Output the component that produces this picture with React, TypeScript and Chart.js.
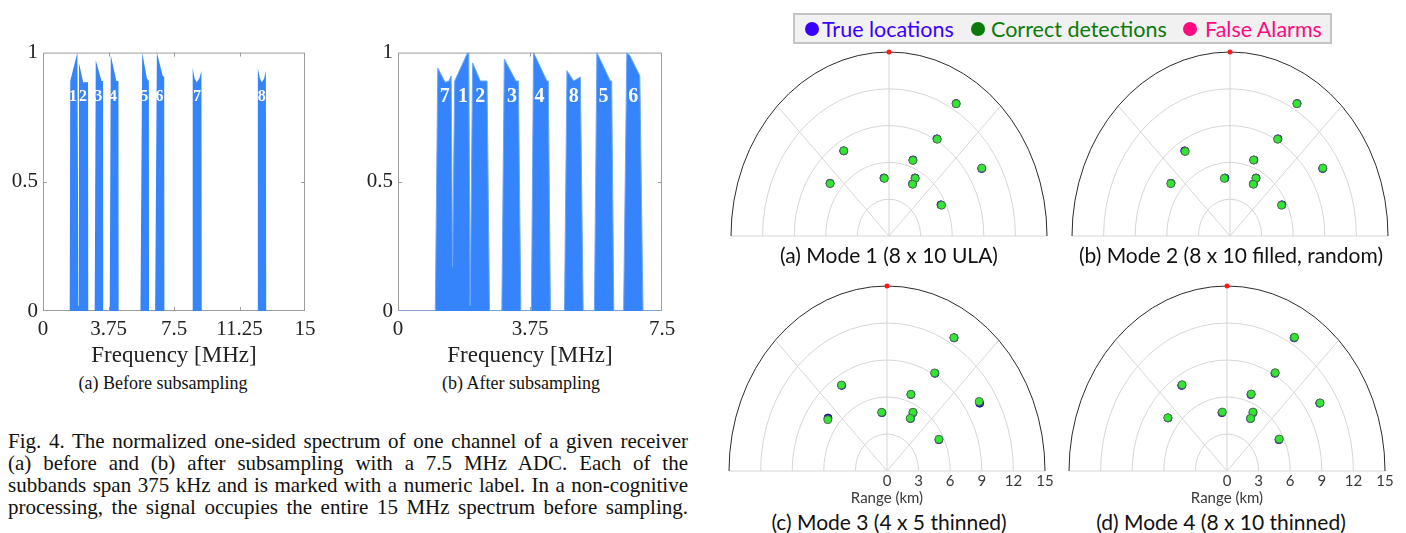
import React, { useEffect, useRef } from 'react';
import { Chart, registerables } from 'chart.js';
Chart.register(...registerables);

const SERIF = "'Liberation Serif', 'Times New Roman', Times, serif";
const SANS = "Lato, 'Open Sans', sans-serif";
const SPEC_BLUE = '#3584fb';

// ---------- Spectrum (a) before subsampling ----------
const freqBefore = [0, 1.53, 1.56, 1.97, 2.0, 2.03, 2.06, 2.3, 2.58, 2.59, 2.96, 3.02, 3.35, 3.44, 3.45, 3.82, 3.88, 4.2, 4.32, 4.33, 5.58, 5.68, 5.95, 6.06, 6.07, 6.42, 6.52, 6.85, 6.94, 6.95, 8.56, 8.57, 8.68, 8.8, 8.95, 9.07, 9.09, 12.29, 12.3, 12.42, 12.53, 12.66, 12.76, 12.78, 15];
const magBefore = [0, 0, 0.89, 1.0, 1.0, 0.02, 0.96, 0.885, 0.885, 0, 0, 0.97, 0.89, 0.89, 0, 0, 0.99, 0.89, 0.89, 0, 0, 1.0, 0.9, 0.89, 0, 0, 1.0, 0.91, 0.906, 0, 0, 0.94, 0.9, 0.885, 0.9, 0.93, 0, 0, 0.94, 0.9, 0.885, 0.9, 0.93, 0, 0];
const bandLabelsBefore = ['1', '2', '3', '4', '5', '6', '7', '8'];
const bandLabelFreqBefore = [1.72, 2.29, 3.17, 4.01, 5.79, 6.67, 8.81, 12.52];
const freqTicksBefore = [0, 3.75, 7.5, 11.25, 15];

// ---------- Spectrum (b) after subsampling ----------
const freqAfter = [0, 1.06, 1.13, 1.34, 1.45, 1.51, 1.55, 1.61, 1.98, 2.01, 2.05, 2.12, 2.34, 2.53, 2.6, 2.95, 3.02, 3.35, 3.42, 3.49, 3.79, 3.85, 4.23, 4.27, 4.33, 4.73, 4.8, 4.99, 5.18, 5.26, 5.58, 5.65, 6.03, 6.07, 6.13, 6.41, 6.5, 6.58, 6.87, 6.96, 7.5];
const magAfter = [0, 0, 0.94, 0.885, 0.89, 0.91, 0.17, 0.89, 1.0, 1.0, 0.02, 0.96, 0.89, 0.89, 0, 0, 0.975, 0.89, 0.89, 0, 0, 1.0, 0.89, 0.89, 0, 0, 0.93, 0.89, 0.905, 0, 0, 1.0, 0.89, 0.89, 0, 0, 1.0, 0.99, 0.91, 0, 0];
const bandLabelsAfter = ['7', '1', '2', '3', '4', '8', '5', '6'];
const bandLabelFreqAfter = [1.33, 1.85, 2.34, 3.24, 4.02, 4.99, 5.84, 6.68];
const freqTicksAfter = [0, 3.75, 7.5];

const magTicks = [0, 0.5, 1];
const bandLabelLevel = 0.83;

// ---------- Polar detection maps ----------
const trueX = [6.37, 4.55, -4.3, 2.27, 8.8, -0.48, 2.47, 2.23, -5.6, 4.93];
const trueY = [10.8, 7.92, 6.94, 6.2, 5.5, 4.73, 4.73, 4.25, 4.3, 2.54];
const mode1X = [6.38, 4.58, -4.29, 2.27, 8.81, -0.44, 2.49, 2.24, -5.59, 4.99];
const mode1Y = [10.78, 7.89, 6.95, 6.16, 5.54, 4.7, 4.7, 4.22, 4.27, 2.51];
const mode2X = [6.35, 4.52, -4.25, 2.24, 8.81, -0.54, 2.46, 2.21, -5.62, 4.89];
const mode2Y = [10.78, 7.89, 6.89, 6.19, 5.54, 4.7, 4.7, 4.22, 4.27, 2.51];
const mode3X = [6.35, 4.52, -4.33, 2.27, 8.75, -0.51, 2.46, 2.21, -5.62, 4.93];
const mode3Y = [10.81, 7.95, 6.97, 6.22, 5.64, 4.76, 4.76, 4.27, 4.16, 2.57];
const mode4X = [6.41, 4.58, -4.26, 2.31, 8.84, -0.44, 2.46, 2.24, -5.62, 4.96];
const mode4Y = [10.84, 7.97, 7.0, 6.24, 5.52, 4.78, 4.78, 4.26, 4.32, 2.59];
const falseAlarmX = [0];
const falseAlarmY = [15];
const rangeRings = [3, 6, 9, 12, 15];
const spokeAngles = [45, 90, 135];
const rangeTicks = [0, 3, 6, 9, 12, 15];
const maxRange = 15;

const captionLines = [
  'Fig. 4. The normalized one-sided spectrum of one channel of a given receiver',
  '(a) before and (b) after subsampling with a 7.5 MHz ADC. Each of the',
  'subbands span 375 kHz and is marked with a numeric label. In a non-cognitive',
  'processing, the signal occupies the entire 15 MHz spectrum before sampling.',
];

function framePlugin() {
  return {
    id: 'frame',
    beforeDatasetsDraw(chart: any) {
      const { ctx, chartArea: a, scales } = chart;
      ctx.save();
      ctx.strokeStyle = '#9d9d9d';
      ctx.lineWidth = 1;
      ctx.strokeRect(a.left + 0.5, a.top + 0.5, a.right - a.left - 1, a.bottom - a.top - 1);
      const L = 4;
      ctx.beginPath();
      scales.x.ticks.forEach((t: any) => {
        if (t.value <= scales.x.min || t.value >= scales.x.max) return;
        const px = Math.round(scales.x.getPixelForValue(t.value)) + 0.5;
        ctx.moveTo(px, a.bottom); ctx.lineTo(px, a.bottom - L);
        ctx.moveTo(px, a.top); ctx.lineTo(px, a.top + L);
      });
      scales.y.ticks.forEach((t: any) => {
        if (t.value <= scales.y.min || t.value >= scales.y.max) return;
        const py = Math.round(scales.y.getPixelForValue(t.value)) + 0.5;
        ctx.moveTo(a.left, py); ctx.lineTo(a.left + L, py);
        ctx.moveTo(a.right, py); ctx.lineTo(a.right - L, py);
      });
      ctx.stroke();
      ctx.restore();
    },
  };
}

function bandLabelPlugin(labels: string[], freqs: number[], size: number) {
  return {
    id: 'bandLabels',
    afterDatasetsDraw(chart: any) {
      const { ctx, scales } = chart;
      ctx.save();
      ctx.fillStyle = '#ffffff';
      ctx.font = `bold ${size}px ${SERIF}`;
      ctx.textAlign = 'center';
      ctx.textBaseline = 'middle';
      labels.forEach((l, i) => {
        ctx.fillText(l, scales.x.getPixelForValue(freqs[i]), scales.y.getPixelForValue(bandLabelLevel));
      });
      ctx.restore();
    },
  };
}

function spectrumConfig(freq: number[], mag: number[], xMax: number, xTicks: number[], labels: string[], labelFreqs: number[], labelSize: number, yWidth: number, padRight: number, lineWidth: number): any {
  return {
    type: 'line',
    data: {
      datasets: [{
        data: freq.map((f, i) => ({ x: f, y: mag[i] })),
        fill: 'origin',
        backgroundColor: SPEC_BLUE,
        borderColor: '#6ea6f7',
        borderWidth: lineWidth,
        pointRadius: 0,
        tension: 0,
      }],
    },
    options: {
      animation: false,
      responsive: false,
      maintainAspectRatio: false,
      devicePixelRatio: 1,
      layout: { padding: { top: 15, right: padRight, bottom: 0, left: 0 } },
      plugins: { legend: { display: false }, tooltip: { enabled: false } },
      scales: {
        x: {
          type: 'linear', min: 0, max: xMax,
          afterBuildTicks: (s: any) => { s.ticks = xTicks.map((v) => ({ value: v })); },
          afterFit: (s: any) => { s.height = 59; },
          grid: { display: false, drawTicks: false },
          border: { display: false },
          ticks: { font: { family: SERIF, size: 21 }, color: '#222', padding: 6, maxRotation: 0, autoSkip: false, callback: (v: any) => String(v) },
          title: { display: true, text: 'Frequency [MHz]', font: { family: SERIF, size: 23 }, color: '#222', padding: 0 },
        },
        y: {
          type: 'linear', min: 0, max: 1,
          afterBuildTicks: (s: any) => { s.ticks = magTicks.map((v) => ({ value: v })); },
          afterFit: (s: any) => { s.width = yWidth; },
          grid: { display: false, drawTicks: false },
          border: { display: false },
          ticks: { font: { family: SERIF, size: 21 }, color: '#222', padding: 5, callback: (v: any) => String(v) },
        },
      },
    },
    plugins: [framePlugin(), bandLabelPlugin(labels, labelFreqs, labelSize)],
  };
}

const polarGridPlugin = {
  id: 'polarGrid',
  beforeDatasetsDraw(chart: any) {
    const { ctx, scales: { x, y } } = chart;
    const cx = x.getPixelForValue(0);
    const cy = y.getPixelForValue(0);
    ctx.save();
    ctx.lineWidth = 1;
    ctx.strokeStyle = '#d6d6d6';
    ctx.beginPath();
    ctx.moveTo(x.getPixelForValue(-maxRange), cy);
    ctx.lineTo(x.getPixelForValue(maxRange), cy);
    ctx.stroke();
    spokeAngles.forEach((deg) => {
      const r = (deg * Math.PI) / 180;
      ctx.beginPath();
      ctx.moveTo(cx, cy);
      ctx.lineTo(x.getPixelForValue(maxRange * Math.cos(r)), y.getPixelForValue(maxRange * Math.sin(r)));
      ctx.stroke();
    });
    rangeRings.forEach((rv) => {
      const rx = x.getPixelForValue(rv) - cx;
      const ry = cy - y.getPixelForValue(rv);
      ctx.beginPath();
      ctx.ellipse(cx, cy, rx, ry, 0, Math.PI, 2 * Math.PI);
      ctx.strokeStyle = rv === maxRange ? '#2b2b2b' : '#d6d6d6';
      ctx.stroke();
    });
    ctx.restore();
  },
};

function polarConfig(detX: number[], detY: number[], showAxis: boolean, pad: any): any {
  const xScale: any = {
    type: 'linear', min: -maxRange, max: maxRange, display: showAxis,
    grid: { display: false, drawTicks: false },
    border: { display: false },
  };
  if (showAxis) {
    xScale.afterBuildTicks = (s: any) => { s.ticks = rangeTicks.map((v) => ({ value: v })); };
    xScale.afterFit = (s: any) => { s.height = 36; };
    xScale.ticks = { font: { family: SANS, size: 15 }, color: '#3a3a3a', padding: 1, maxRotation: 0, autoSkip: false, callback: (v: any) => String(v) };
    xScale.title = { display: true, text: 'Range (km)', font: { family: SANS, size: 15 }, color: '#3a3a3a', padding: 0 };
  }
  return {
    type: 'scatter',
    data: {
      datasets: [
        { label: 'False Alarms', data: falseAlarmX.map((v, i) => ({ x: v, y: falseAlarmY[i] })), backgroundColor: '#ff1a1a', borderColor: '#ff1a1a', borderWidth: 0, pointRadius: 2.5, clip: false },
        { label: 'Correct detections', data: detX.map((v, i) => ({ x: v, y: detY[i] })), backgroundColor: '#33e633', borderColor: '#4d6a4d', borderWidth: 1, pointRadius: 4, clip: false },
        { label: 'True locations', data: trueX.map((v, i) => ({ x: v, y: trueY[i] })), backgroundColor: '#1b1b9e', borderColor: '#1b1b9e', borderWidth: 1, pointRadius: 4, clip: false },
      ],
    },
    options: {
      animation: false,
      responsive: false,
      maintainAspectRatio: false,
      devicePixelRatio: 1,
      layout: { padding: pad },
      plugins: { legend: { display: false }, tooltip: { enabled: false } },
      scales: {
        x: xScale,
        y: { type: 'linear', min: 0, max: maxRange, display: false },
      },
    },
    plugins: [polarGridPlugin],
  };
}

function ChartCanvas({ left, top, width, height, make }: { left: number; top: number; width: number; height: number; make: () => any }) {
  const ref = useRef<HTMLCanvasElement>(null);
  useEffect(() => {
    const chart = new Chart(ref.current as HTMLCanvasElement, make());
    return () => chart.destroy();
  }, []);
  return <canvas ref={ref} width={width} height={height} style={{ position: 'absolute', left, top, width, height }} />;
}

function Label({ cx, cy, text, size, family, color = '#111' }: { cx: number; cy: number; text: string; size: number; family: string; color?: string }) {
  const w = 600;
  return (
    <div style={{ position: 'absolute', left: cx - w / 2, top: cy - size * 0.6, width: w, textAlign: 'center', fontFamily: family, fontSize: size, lineHeight: `${size * 1.2}px`, color, whiteSpace: 'nowrap' }}>{text}</div>
  );
}

function Dot({ left, color }: { left: number; color: string }) {
  return <div style={{ position: 'absolute', left, top: 22, width: 14, height: 14, borderRadius: '50%', background: color }} />;
}

const legendText = { position: 'absolute' as const, top: 16, fontFamily: SANS, fontSize: 21.5, lineHeight: '26px', whiteSpace: 'nowrap' as const };

export default function App() {
  return (
    <div style={{ position: 'fixed', left: 0, top: 0, width: 1406, height: 533, background: '#fff', overflow: 'hidden' }}>
      <ChartCanvas left={0} top={35} width={330} height={335}
        make={() => spectrumConfig(freqBefore, magBefore, 15, freqTicksBefore, bandLabelsBefore, bandLabelFreqBefore, 16, 43, 25, 0)} />
      <ChartCanvas left={350} top={35} width={340} height={335}
        make={() => spectrumConfig(freqAfter, magAfter, 7.5, freqTicksAfter, bandLabelsAfter, bandLabelFreqAfter, 20, 48, 28, 1)} />
      <Label cx={163} cy={384} text="(a) Before subsampling" size={18} family={SERIF} />
      <Label cx={521} cy={384} text="(b) After subsampling" size={18} family={SERIF} />
      {captionLines.map((t, i) => (
        <div key={i} style={{ position: 'absolute', left: 8, top: 441 + i * 22 - 12, width: 680, fontFamily: SERIF, fontSize: 21, lineHeight: '24px', textAlign: 'justify', textAlignLast: 'justify', color: '#111' }}>{t}</div>
      ))}

      <ChartCanvas left={724} top={44} width={330} height={197}
        make={() => polarConfig(mode1X, mode1Y, false, { left: 7, right: 7, top: 8, bottom: 4 })} />
      <ChartCanvas left={1065} top={44} width={330} height={197}
        make={() => polarConfig(mode2X, mode2Y, false, { left: 7, right: 7, top: 8, bottom: 4 })} />
      <ChartCanvas left={722} top={278} width={340} height={229}
        make={() => polarConfig(mode3X, mode3Y, true, { left: 7, right: 17, top: 8, bottom: 0 })} />
      <ChartCanvas left={1062} top={278} width={340} height={229}
        make={() => polarConfig(mode4X, mode4Y, true, { left: 7, right: 17, top: 8, bottom: 0 })} />

      <Label cx={889} cy={255} text="(a) Mode 1 (8 x 10 ULA)" size={21} family={SANS} />
      <Label cx={1231} cy={255} text="(b) Mode 2 (8 x 10 filled, random)" size={21} family={SANS} />
      <Label cx={889} cy={522} text="(c) Mode 3 (4 x 5 thinned)" size={21} family={SANS} />
      <Label cx={1221} cy={522} text="(d) Mode 4 (8 x 10 thinned)" size={21} family={SANS} />

      <div style={{ position: 'absolute', left: 793, top: 13, width: 539, height: 31, boxSizing: 'border-box', border: '2px solid #c4c4c4', background: '#f1f1f1' }} />
      <Dot left={805} color="#3a00ff" />
      <div style={{ ...legendText, left: 822, color: '#3a00ff' }}>True locations</div>
      <Dot left={971} color="#0b7a0b" />
      <div style={{ ...legendText, left: 991, color: '#0b7a0b' }}>Correct detections</div>
      <Dot left={1183} color="#ff0a80" />
      <div style={{ ...legendText, left: 1205, color: '#ff0a80' }}>False Alarms</div>
    </div>
  );
}
